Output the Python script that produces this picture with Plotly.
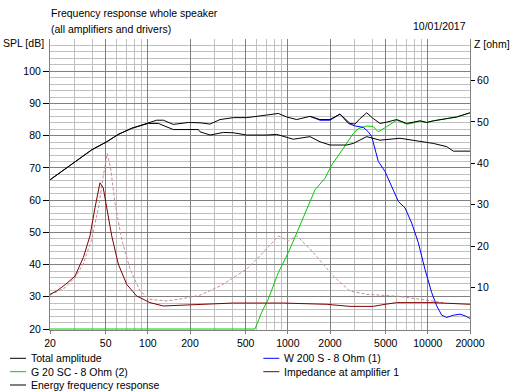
import plotly.graph_objects as go

# ---------------- data ----------------
total_freq = [20, 25.6, 31.9, 39.7, 50.8, 61.5, 76.7, 90.4, 100.7, 115.6, 129, 152, 194.5, 235.8, 278, 327.7,
              407.8, 508.2, 706.2, 854.7, 981.2, 1157, 1439, 1697, 2000, 2357, 2779, 3017, 3275, 3657, 4078,
              4551, 5082, 5991, 7062, 7871, 8788, 9812, 10936, 13640, 16070, 20000]
total_db = [66.3, 69.7, 72.5, 75.6, 78.1, 80.4, 82.3, 83.3, 83.8, 84.8, 84.8, 83.5, 84.1, 84.0, 83.6, 85.0,
            85.6, 85.6, 86.4, 86.9, 85.8, 85.0, 86.0, 85.0, 85.0, 86.7, 83.8, 83.6, 85.3, 87.1, 85.3,
            83.8, 84.2, 85.0, 83.8, 84.1, 84.6, 84.1, 84.6, 85.3, 85.8, 87.1]

energy_freq = [20, 25.6, 31.9, 39.7, 50.8, 61.5, 76.7, 90.4, 100.7, 118.7, 152, 229.4, 235.8, 278, 345.9,
               407.8, 508.2, 706.2, 832.6, 1094, 1439, 1697, 2000, 2633, 2934, 3657, 4551, 6325, 7871,
               10936, 13640, 15200, 20000]
energy_db = [66.3, 69.7, 72.5, 75.6, 78.1, 80.4, 82.3, 83.3, 83.8, 83.8, 81.9, 81.9, 81.2, 80.2, 81.0,
             80.9, 80.2, 80.2, 80.4, 78.9, 79.7, 78.1, 77.1, 77.1, 77.6, 79.7, 78.6, 79.2, 78.6,
             77.6, 76.6, 75.2, 75.2]

tweeter_freq = [20, 582.4, 650.4, 725, 854.7, 1007, 1157, 1363, 1563, 1842, 2056, 2490, 2934, 3185, 3657,
                4078, 4426, 5082, 5991, 7062, 7667, 8788, 9812, 10936, 13640, 16070, 20000]
tweeter_db = [20, 20, 25.2, 29.3, 37.5, 43.7, 49.8, 57.0, 63.2, 66.8, 70.9, 76.1, 80.7, 82.2, 83.0,
              82.8, 81.2, 82.8, 84.8, 83.6, 83.8, 84.6, 84.1, 84.6, 85.3, 85.8, 87.1]

woofer_freq = [1439, 1697, 2000, 2357, 2703, 3017, 3458, 3755, 3972, 4426, 4943, 5516, 6152, 6868, 7667,
               8546, 9541, 10650, 11564, 12562, 13640, 15200, 16974, 18430, 20000]
woofer_db = [86.0, 84.8, 84.8, 86.7, 83.8, 83.0, 82.6, 81.2, 79.7, 72.0, 68.9, 64.2, 59.6, 57.6, 52.9,
             46.8, 38.5, 31.3, 27.2, 24.3, 23.6, 24.3, 24.6, 24.1, 23.3]

imp_freq = [20, 22.3, 25.6, 30.2, 34.6, 38.6, 41.9, 45.5, 48.0, 50.8, 55.2, 61.5, 70.6, 83.2, 103.6, 129,
            179, 236, 407.8, 927.8, 1893, 2779, 4078, 4943, 5991, 10936, 16974, 20000]
imp_ohm = [8.4, 9.2, 10.7, 12.8, 17.3, 22.5, 29.3, 35.3, 34.1, 29.7, 22.5, 15.7, 10.8, 8.0, 6.4, 5.6,
           5.8, 5.8, 6.3, 6.3, 6.0, 5.5, 5.5, 6.0, 6.4, 6.4, 6.0, 6.0]

imp2_freq = [20, 25.6, 30.2, 34.6, 39.7, 44.6, 48.0, 51.3, 54.3, 58.2, 65.0, 74.6, 87.9, 103.6, 136.4, 179,
             236, 327.7, 508.2, 667.8, 854.7, 1007, 1157, 1520, 2111, 2779, 3657, 5082, 6325, 8788,
             10936, 12896]
imp2_ohm = [8.2, 10.0, 12.5, 15.7, 21.7, 29.7, 36.9, 42.4, 38.6, 30.5, 21.7, 14.5, 9.2, 7.2, 6.8, 7.4,
            8.2, 10.4, 14.5, 18.5, 22.5, 21.3, 22.5, 18.5, 12.8, 9.2, 8.4, 8.2, 7.9, 7.2,
            6.8, 6.4]

x_ticks = [20, 50, 100, 200, 500, 1000, 2000, 5000, 10000, 20000]
x_minor = [30, 40, 60, 70, 80, 90, 300, 400, 600, 700, 800, 900, 3000, 4000, 6000, 7000, 8000, 9000]
y_ticks = [20, 30, 40, 50, 60, 70, 80, 90, 100]
y_minor = [v for v in range(22, 111, 2) if v % 10 != 0] + [110]
z_ticks = [10, 20, 30, 40, 50, 60]

legend_items = [
    ("Total amplitude", "#000000", 0),
    ("W 200 S - 8 Ohm (1)", "#0000ff", 1),
    ("G 20 SC - 8 Ohm (2)", "#00cc00", 0),
    ("Impedance at amplifier 1", "#800000", 1),
    ("Energy frequency response", "#000000", 0),
]

# ---------------- figure ----------------
FONT = dict(family="Liberation Sans, Arial, sans-serif", size=10.5, color="#000000")
W, H = 514, 391
L, R, T, B = 50, 44, 39, 61
PW, PH = W - L - R, H - T - B

def px(xp):
    return (xp - L) / PW

def py(yp):
    return (H - B - yp) / PH

fig = go.Figure()
fig.add_trace(go.Scatter(x=imp2_freq, y=imp2_ohm, yaxis="y2", mode="lines",
                         line=dict(color="#c88c8c", width=1, dash="3px,2px"), showlegend=False))
fig.add_trace(go.Scatter(x=imp_freq, y=imp_ohm, yaxis="y2", mode="lines",
                         line=dict(color="#800000", width=1), showlegend=False))
fig.add_trace(go.Scatter(x=tweeter_freq, y=tweeter_db, mode="lines",
                         line=dict(color="#00cc00", width=1), showlegend=False))
fig.add_trace(go.Scatter(x=woofer_freq, y=woofer_db, mode="lines",
                         line=dict(color="#0000ff", width=1), showlegend=False))
fig.add_trace(go.Scatter(x=energy_freq, y=energy_db, mode="lines",
                         line=dict(color="#000000", width=1), showlegend=False))
fig.add_trace(go.Scatter(x=total_freq, y=total_db, mode="lines",
                         line=dict(color="#000000", width=1), showlegend=False))

annotations = [
    dict(text="Frequency response whole speaker", x=px(50), y=py(12.5), xanchor="left", yanchor="middle"),
    dict(text="(all amplifiers and drivers)", x=px(50), y=py(29), xanchor="left", yanchor="middle"),
    dict(text="10/01/2017", x=px(467), y=py(26), xanchor="right", yanchor="middle"),
    dict(text="SPL [dB]", x=px(2), y=py(43), xanchor="left", yanchor="middle"),
    dict(text="Z [ohm]", x=px(472.5), y=py(44), xanchor="left", yanchor="middle"),
]
shapes = []
rows_y = [358.3, 371.7, 385]
for i, (name, color, col) in enumerate(legend_items):
    row = i // 2
    x0 = 10 if col == 0 else 263.3
    yy = rows_y[row]
    shapes.append(dict(type="line", xref="paper", yref="paper", x0=px(x0), x1=px(x0 + 16),
                       y0=py(yy), y1=py(yy), line=dict(color=color, width=1)))
    annotations.append(dict(text=name, x=px(x0 + 20), y=py(yy), xanchor="left", yanchor="middle"))

for a in annotations:
    a.update(xref="paper", yref="paper", showarrow=False, font=FONT, borderpad=0)

fig.update_layout(
    width=W, height=H,
    margin=dict(l=L, r=R, t=T, b=B, pad=0),
    paper_bgcolor="#ffffff", plot_bgcolor="#ffffff",
    font=FONT,
    showlegend=False,
    annotations=annotations,
    shapes=shapes,
    xaxis=dict(type="log", range=[1.30103, 4.30103], tickvals=x_ticks, ticktext=[str(v) for v in x_ticks],
               showgrid=True, gridcolor="#808080", gridwidth=1,
               showline=True, linecolor="#808080", linewidth=1,
               ticks="outside", ticklen=3, tickcolor="#808080", tickfont=FONT,
               minor=dict(tickvals=x_minor, showgrid=True, gridcolor="#c0c0c0", gridwidth=1, ticks=""),
               zeroline=False, layer="below traces", fixedrange=True),
    yaxis=dict(range=[19.7, 110], tickvals=y_ticks, ticktext=[str(v) for v in y_ticks],
               showgrid=True, gridcolor="#808080", gridwidth=1,
               showline=True, linecolor="#808080", linewidth=1,
               ticks="outside", ticklen=6, tickcolor="#000000", tickfont=FONT,
               minor=dict(tickvals=y_minor, showgrid=True, gridcolor="#c0c0c0", gridwidth=1, ticks=""),
               zeroline=False, layer="below traces", fixedrange=True),
    yaxis2=dict(range=[-0.2, 70], overlaying="y", side="right", tickvals=z_ticks,
                ticktext=[str(v) for v in z_ticks], showgrid=False,
                showline=True, linecolor="#808080", linewidth=1,
                ticks="outside", ticklen=4, tickcolor="#000000", tickfont=FONT,
                zeroline=False, layer="below traces", fixedrange=True),
)

fig.write_html("out.html", config={"displayModeBar": False},
               post_script="document.body.style.margin='0';document.body.style.padding='0';")
